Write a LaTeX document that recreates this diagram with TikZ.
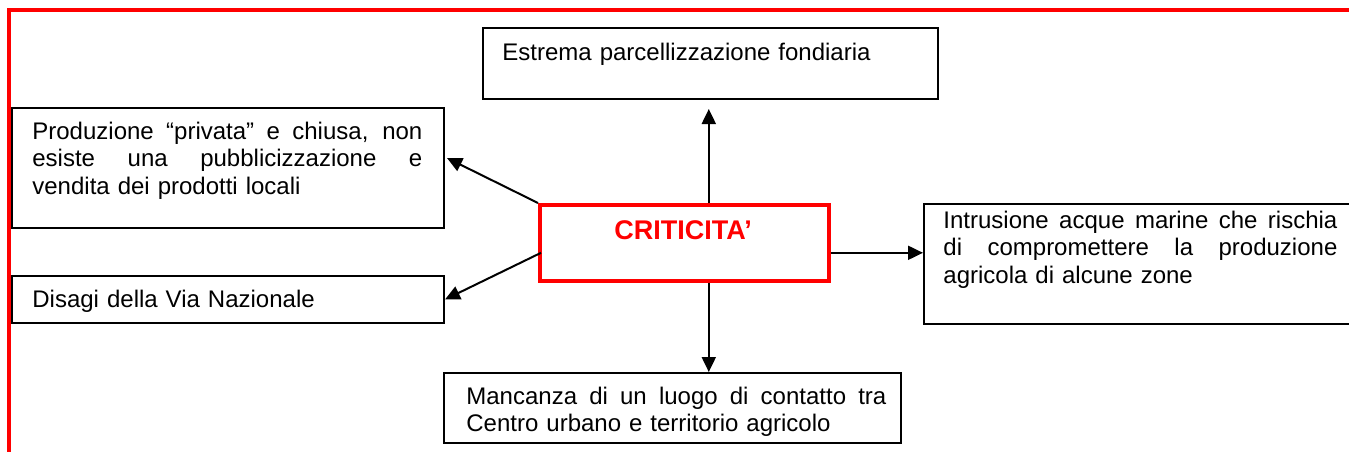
\documentclass[tikz,border=0pt]{standalone}
\usepackage{fontspec}
\setmainfont{Liberation Sans}
\usetikzlibrary{arrows.meta,calc}
\definecolor{critred}{RGB}{255,0,0}
\newcommand\jline[2]{\makebox[#1][s]{\spaceskip=0.278em plus 1fil\relax #2}}
\begin{document}
\begin{tikzpicture}[x=0.5pt,y=-0.5pt,
  box/.style={draw=black,line width=1pt,rectangle,inner sep=0pt,anchor=north west},
  txt/.style={inner sep=0pt,anchor=base west,align=left,font=\fontsize{12}{13.8}\selectfont},
  arr/.style={line width=1pt,-{Triangle[length=7.5pt,width=7pt]}}]
\clip (0,0) rectangle (1349,451);
\fill[white] (0,0) rectangle (1349,451);
% outer red frame
\draw[critred,line width=2pt] (9,10) rectangle (1380,480);
% boxes
\node[box,minimum width=227.5pt,minimum height=35.5pt] (top) at (482,27) {};
\node[box,minimum width=216pt,minimum height=60pt] (prod) at (11,107) {};
\node[box,minimum width=216pt,minimum height=23.5pt] (dis) at (11,275) {};
\node[box,minimum width=250pt,minimum height=60pt] (intr) at (923,203) {};
\node[box,minimum width=228.5pt,minimum height=35pt] (bot) at (443,372) {};
\node[box,draw=critred,line width=1.8pt,minimum width=144.5pt,minimum height=38pt] (crit) at (538,203) {};
% texts
\node[txt,text width=200pt] (ttop) at (502,60) {Estrema parcellizzazione fondiaria};
\node[txt,text width=195pt] (tprod) at (32,139) {\jline{195pt}{Produzione “privata” e chiusa, non}\\\jline{195pt}{esiste una pubblicizzazione e}\\vendita dei prodotti locali};
\node[txt,text width=195pt] (tdis) at (32,307) {Disagi della Via Nazionale};
\node[txt,text width=197pt] (tintr) at (943,228) {\jline{197pt}{Intrusione acque marine che rischia}\\\jline{197pt}{di compromettere la produzione}\\agricola di alcune zone};
\node[txt,text width=210pt] (tbot) at (466,404) {\jline{210pt}{Mancanza di un luogo di contatto tra}\\Centro urbano e territorio agricolo};
\node[inner sep=0pt,anchor=base,text=critred,font=\fontsize{13.5}{16}\selectfont\bfseries] (tcrit) at (683,239) {CRITICITA’};
% connectors
\coordinate (cu) at ($(crit.north)+(24.5,0)$);
\coordinate (cd) at ($(crit.south)+(24.5,0)$);
\coordinate (cr) at ($(crit.east)+(0,10)$);
\coordinate (cl) at ($(crit.west)+(3,10)$);
\draw[arr] (cu) -- ($(cu |- top.south)+(0,9)$);
\draw[arr] (crit.north west) -- ($(prod.east)+(2,-10)$);
\draw[arr] (cl) -- (dis.east);
\draw[arr] (cr) -- (cr -| intr.west);
\draw[arr] (cd) -- (cd |- bot.north);
\end{tikzpicture}
\end{document}
